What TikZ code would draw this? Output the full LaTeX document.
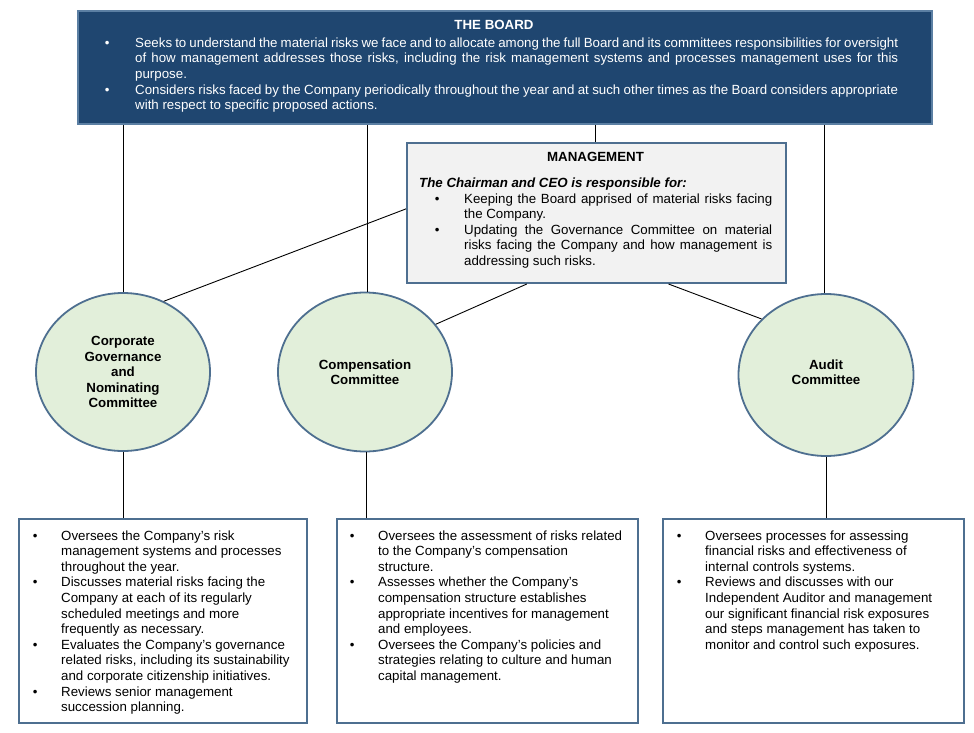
\documentclass[tikz,border=0pt]{standalone}
\usepackage{fontspec}
\setmainfont{Liberation Sans}
\usetikzlibrary{shapes.geometric,calc}
\definecolor{boardfill}{HTML}{1F4670}
\definecolor{boardedge}{HTML}{5B7FA3}
\definecolor{edgeblue}{HTML}{4E6F90}
\definecolor{mgmtfill}{HTML}{F2F2F2}
\definecolor{circfill}{HTML}{E2EFDA}
\tikzset{
  boardbox/.style={draw=boardedge, fill=boardfill, line width=2pt, rectangle, inner sep=0pt, anchor=north west},
  mgmtbox/.style={draw=edgeblue, fill=mgmtfill, line width=2pt, rectangle, inner sep=0pt, anchor=north west},
  infobox/.style={draw=edgeblue, fill=white, line width=2.2pt, rectangle, inner sep=0pt, anchor=north west},
  circ/.style={ellipse, draw=edgeblue, fill=circfill, line width=1.8pt, inner sep=0pt},
  circtxt/.style={inner sep=0pt, align=center, font=\bfseries\fontsize{13.3}{15.5}\selectfont},
  txt/.style={inner sep=0pt, anchor=north west, font=\fontsize{13.3}{15.6}\selectfont},
  boardtxt/.style={inner sep=0pt, anchor=north west, text=white, font=\fontsize{13.3}{15.7}\selectfont},
  conn/.style={draw=black, line width=0.9pt},
}
\begin{document}
\begin{tikzpicture}[x=1pt,y=-1pt]
\useasboundingbox (0,0) rectangle (974,733);

% THE BOARD
\node[boardbox, minimum width=854pt, minimum height=113pt] (board) at (77,10) {};
\node[inner sep=0pt, text=white, font=\bfseries\fontsize{13.3}{15.7}\selectfont] (boardtitle) at (494,25) {THE BOARD};
\node[boardtxt] (boardlist) at (104.7,36) {\begin{tabular}{@{}p{30.3pt}@{}l@{}}
\textbullet & \makebox[763pt][s]{Seeks to understand the material risks we face and to allocate among the full Board and its committees responsibilities for oversight}\\
 & \makebox[763pt][s]{of how management addresses those risks, including the risk management systems and processes management uses for this}\\
 & purpose.\\
\textbullet & \makebox[763pt][s]{Considers risks faced by the Company periodically throughout the year and at such other times as the Board considers appropriate}\\
 & with respect to specific proposed actions.
\end{tabular}};

% MANAGEMENT
\node[mgmtbox, minimum width=379pt, minimum height=140pt] (mgmt) at (406,142) {};
\node[inner sep=0pt, font=\bfseries\fontsize{13.3}{15.6}\selectfont] (mgmttitle) at (595.5,157) {MANAGEMENT};
\node[inner sep=0pt, anchor=base west, font=\bfseries\itshape\fontsize{13.3}{15.6}\selectfont] (mgmtlead) at (419,187) {The Chairman and CEO is responsible for:};
\node[txt] (mgmtlist) at (434.7,192) {\begin{tabular}{@{}p{29.3pt}@{}l@{}}
\textbullet & \makebox[308pt][s]{Keeping the Board apprised of material risks facing}\\
 & the Company.\\
\textbullet & \makebox[308pt][s]{Updating the Governance Committee on material}\\
 & \makebox[308pt][s]{risks facing the Company and how management is}\\
 & addressing such risks.
\end{tabular}};

% Committees
\node[circ, minimum width=174pt, minimum height=158pt] (cg) at (123,372) {};
\node[circtxt] (cglbl) at (123,372) {Corporate\\Governance\\and\\Nominating\\Committee};
\node[circ, minimum width=174pt, minimum height=159pt] (comp) at (365,372) {};
\node[circtxt] (complbl) at (365,372) {Compensation\\Committee};
\node[circ, minimum width=175pt, minimum height=162pt] (audit) at (826,375) {};
\node[circtxt] (auditlbl) at (826,372) {Audit\\Committee};

% Bottom boxes
\node[infobox, minimum width=288pt, minimum height=204pt] (box1) at (18,518) {};
\node[infobox, minimum width=301pt, minimum height=204pt] (box2) at (336,518) {};
\node[infobox, minimum width=301pt, minimum height=204pt] (box3) at (662,518) {};

\node[txt] (list1) at (32.7,529) {\begin{tabular}{@{}p{28.3pt}@{}l@{}}
\textbullet & Oversees the Company’s risk\\
 & management systems and processes\\
 & throughout the year.\\
\textbullet & Discusses material risks facing the\\
 & Company at each of its regularly\\
 & scheduled meetings and more\\
 & frequently as necessary.\\
\textbullet & Evaluates the Company’s governance\\
 & related risks, including its sustainability\\
 & and corporate citizenship initiatives.\\
\textbullet & Reviews senior management\\
 & succession planning.
\end{tabular}};

\node[txt] (list2) at (349.7,529) {\begin{tabular}{@{}p{28.3pt}@{}l@{}}
\textbullet & Oversees the assessment of risks related\\
 & to the Company’s compensation\\
 & structure.\\
\textbullet & Assesses whether the Company’s\\
 & compensation structure establishes\\
 & appropriate incentives for management\\
 & and employees.\\
\textbullet & Oversees the Company’s policies and\\
 & strategies relating to culture and human\\
 & capital management.
\end{tabular}};

\node[txt] (list3) at (676.7,529) {\begin{tabular}{@{}p{28.3pt}@{}l@{}}
\textbullet & Oversees processes for assessing\\
 & financial risks and effectiveness of\\
 & internal controls systems.\\
\textbullet & Reviews and discusses with our\\
 & Independent Auditor and management\\
 & our significant financial risk exposures\\
 & and steps management has taken to\\
 & monitor and control such exposures.
\end{tabular}};

% Connectors
\draw[conn] (cg.north) -- (cg.north |- board.south);
\draw[conn] ([xshift=2pt]comp.north) -- ([xshift=2pt]comp.north |- board.south);
\draw[conn] ([xshift=-2pt]audit.north) -- ([xshift=-2pt]audit.north |- board.south);
\draw[conn] ([xshift=-1.5pt]mgmt.north) -- ([xshift=-1.5pt]mgmt.north |- board.south);
\draw[conn] ($(mgmt.north west)!0.471!(mgmt.south west)$) -- (cg.60.6);
\draw[conn] ($(mgmt.south west)!0.317!(mgmt.south east)$) -- (comp.34.4);
\draw[conn] ($(mgmt.south west)!0.689!(mgmt.south east)$) -- (audit.139.8);
\draw[conn] (cg.south) -- (cg.south |- box1.north);
\draw[conn] ([xshift=1pt]comp.south) -- ([xshift=1pt]comp.south |- box2.north);
\draw[conn] (audit.south) -- (audit.south |- box3.north);
\end{tikzpicture}
\end{document}
